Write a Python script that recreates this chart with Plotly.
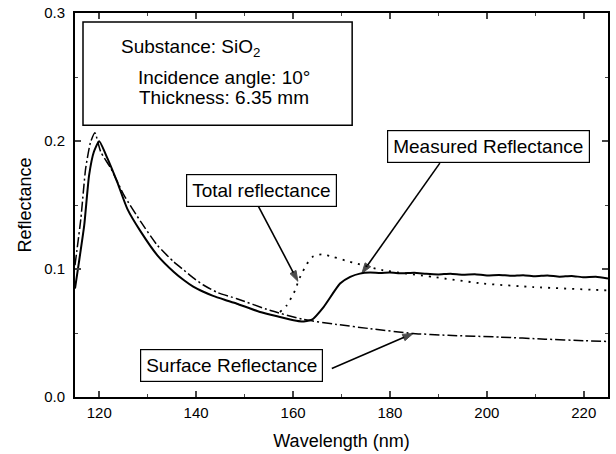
import plotly.graph_objects as go

# Measured reflectance (solid)
meas_wl = [115.0, 115.8, 116.9, 117.9, 118.9, 120.0, 121.7, 123.7, 125.8, 128.6, 132.0, 135.4, 137.5, 139.4,
           141.5, 143.5, 146.0, 148.4, 153.2, 157.3, 160.1, 161.8, 163.9, 166.3, 169.7, 171.8, 173.8, 175.9,
           178.0, 180.0, 182.5, 185.0, 187.5, 190.0, 192.5, 195.0, 197.5, 200.0, 202.5, 205.0,
           207.5, 210.0, 212.5, 215.0, 217.5, 220.0, 222.5, 225.0]
meas_r = [0.0847, 0.105, 0.134, 0.173, 0.1916, 0.1999, 0.1864, 0.168, 0.147, 0.129, 0.1107, 0.0977, 0.0912, 0.0862,
          0.0822, 0.0790, 0.0758, 0.0729, 0.0664, 0.0625, 0.0599, 0.059, 0.0604, 0.0703, 0.0886, 0.0938, 0.0964, 0.0972,
          0.0968, 0.0972, 0.0966, 0.0970, 0.0962, 0.0958, 0.0963, 0.0955, 0.0959, 0.0950, 0.0954, 0.0947,
          0.0952, 0.0944, 0.0949, 0.0940, 0.0946, 0.0935, 0.0940, 0.0925]

# Surface reflectance (dash-dot)
surf_wl = [115.0, 116.2, 117.2, 118.2, 119.1, 120.3, 122.4, 125.1, 128.6, 132.0, 135.4, 137.5, 139.5, 141.5,
           144.5, 148.4, 155.2, 162.1, 169.0, 175.9, 184.6, 192.0, 202.7, 212.0, 220.0, 225.0]
surf_r = [0.103, 0.139, 0.1786, 0.199, 0.2065, 0.1916, 0.1786, 0.1577, 0.1368, 0.1185, 0.1055, 0.099, 0.0928, 0.0875,
          0.0815, 0.0768, 0.0677, 0.0606, 0.0567, 0.0534, 0.0497, 0.0482, 0.0468, 0.0452, 0.0440, 0.0434]

# Total reflectance (dotted), departing from surface curve
tot_wl = [157.3, 158.7, 159.7, 160.6, 161.1, 161.8, 162.8, 164.2, 165.9, 168.3, 171.1, 173.1, 178.6,
          188.9, 199.3, 209.6, 224.7, 225.0]
tot_r = [0.0664, 0.0716, 0.078, 0.0847, 0.091, 0.0964, 0.1037, 0.11, 0.1115, 0.1094, 0.1063, 0.1042, 0.099,
         0.0938, 0.0886, 0.0859, 0.0833, 0.0832]

x_ticks = [120, 140, 160, 180, 200, 220]
y_ticks = [0.0, 0.1, 0.2, 0.3]
y_tick_text = ["0.0", "0.1", "0.2", "0.3"]

FONT = "Liberation Sans, Arial, sans-serif"

fig = go.Figure()
fig.add_trace(go.Scatter(x=surf_wl, y=surf_r, mode="lines",
                         line=dict(color="black", width=1.5, dash="10px,3px,2px,3px", shape="spline", smoothing=0.5),
                         showlegend=False))
fig.add_trace(go.Scatter(x=tot_wl, y=tot_r, mode="lines",
                         line=dict(color="black", width=1.8, dash="2px,6px", shape="spline", smoothing=0.5),
                         showlegend=False))
fig.add_trace(go.Scatter(x=meas_wl, y=meas_r, mode="lines",
                         line=dict(color="black", width=2, shape="spline", smoothing=0.5),
                         showlegend=False))

# Info box
fig.add_shape(type="rect", x0=116.65, x1=172.2, y0=0.2124, y1=0.293, xref="x", yref="y",
              line=dict(color="black", width=1.5), fillcolor="white", layer="below")
info = [("Substance: SiO<sub>2</sub>", 124.0, 0.2727),
        ("Incidence angle: 10°", 127.6, 0.250),
        ("Thickness: 6.35 mm", 127.8, 0.2336)]
for t, xx, yy in info:
    fig.add_annotation(text=t, x=xx, y=yy, xref="x", yref="y", xanchor="left", yanchor="middle",
                       showarrow=False, font=dict(family=FONT, size=19, color="black"))

# Labeled boxes
boxes = [("Measured Reflectance", 200.3, 0.1956),
         ("Total reflectance", 153.5, 0.1616),
         ("Surface Reflectance", 147.4, 0.0243)]
for t, xx, yy in boxes:
    fig.add_annotation(text=t, x=xx, y=yy, xref="x", yref="y", xanchor="center", yanchor="middle",
                       showarrow=False, font=dict(family=FONT, size=19, color="black"),
                       bordercolor="black", borderwidth=1.2, borderpad=5, bgcolor="white")

# Pointer arrows (tail -> tip), drawn as line traces with an arrow marker at the tip
arrows = [((190.3, 174.2), (0.1827, 0.0966)),
          ((152.2, 161.0), (0.1537, 0.0904)),
          ((168.0, 184.8), (0.0223, 0.0497))]
for ax_, ay_ in arrows:
    fig.add_trace(go.Scatter(x=list(ax_), y=list(ay_), mode="lines+markers",
                             line=dict(color="black", width=1.6),
                             marker=dict(symbol="arrow", angleref="previous", size=[0, 11], color="black",
                                         line=dict(width=1, color="black")),
                             showlegend=False, hoverinfo="skip"))

fig.update_xaxes(range=[115, 225], tickvals=x_ticks, ticks="inside", ticklen=6, tickwidth=1.5,
                 showline=True, linewidth=2, linecolor="black", mirror="ticks", showgrid=False, zeroline=False,
                 minor=dict(dtick=10, tick0=110, ticks="inside", ticklen=3, tickwidth=1.2, showgrid=False),
                 tickfont=dict(family=FONT, size=15, color="black"), ticklabelstandoff=1,
                 title=dict(text="Wavelength (nm)", font=dict(family=FONT, size=18, color="black"), standoff=14))
fig.update_yaxes(range=[0, 0.3], tickvals=y_ticks, ticktext=y_tick_text, ticks="inside", ticklen=6, tickwidth=1.5,
                 showline=True, linewidth=2, linecolor="black", mirror="ticks", showgrid=False, zeroline=False,
                 minor=dict(dtick=0.05, tick0=0, ticks="inside", ticklen=3, tickwidth=1.2, showgrid=False),
                 tickfont=dict(family=FONT, size=15, color="black"), ticklabelstandoff=5,
                 title=dict(text="Reflectance", font=dict(family=FONT, size=18, color="black"), standoff=8))

fig.update_layout(width=616, height=454, margin=dict(l=75, r=8, t=13, b=57, autoexpand=False),
                  paper_bgcolor="white", plot_bgcolor="white")

fig.write_html("out.html")
